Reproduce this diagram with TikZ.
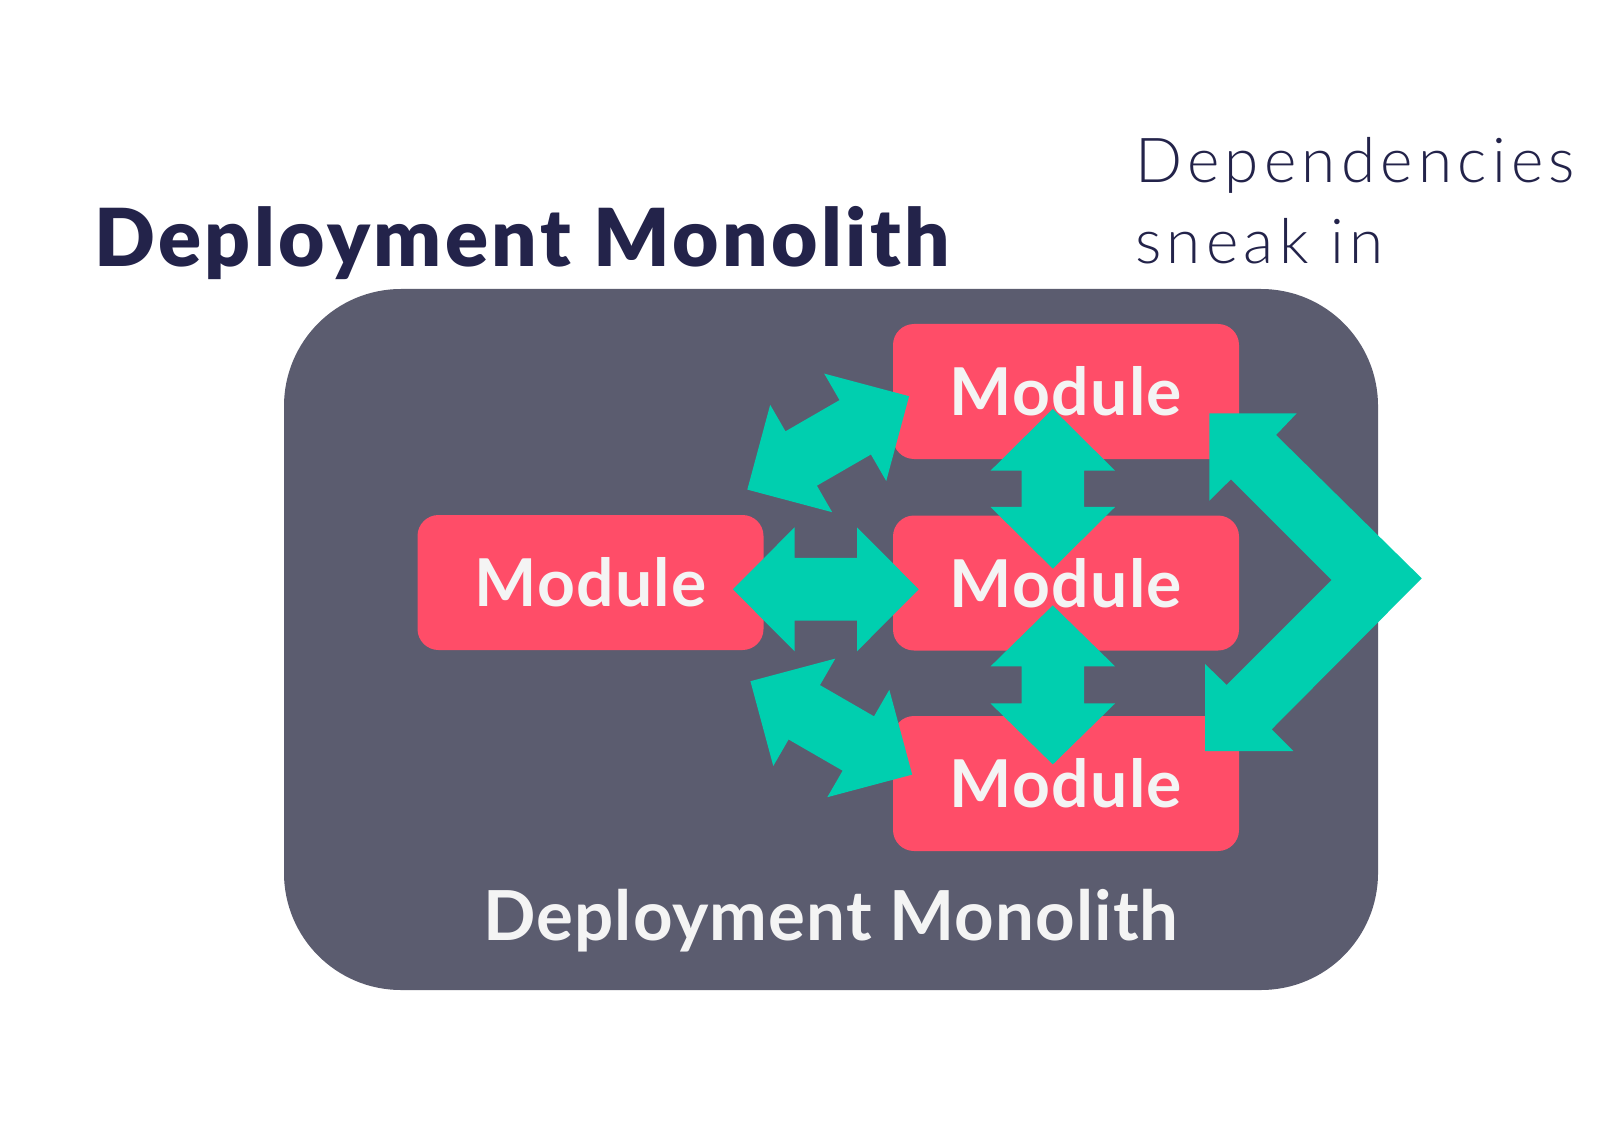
\documentclass[tikz,border=0pt]{standalone}
\usepackage{fontspec}
\setmainfont{Lato}
\newfontfamily\depfont{Lato Light}[LetterSpace=8.5]
\newfontfamily\titlefont{Lato Black}[LetterSpace=4.4]
\newfontfamily\modfont{Lato}[LetterSpace=2]
\newfontfamily\labelfont{Lato}[LetterSpace=1.5]
\definecolor{slate}{HTML}{5B5C6F}
\definecolor{modred}{HTML}{FF4D68}
\definecolor{teal2}{HTML}{00CFAF}
\definecolor{navy}{HTML}{23234A}
\definecolor{offwhite}{HTML}{F4F4F4}
\tikzset{
  monolith/.style={fill=slate, rounded corners=117pt, minimum width=1094pt, minimum height=701pt, inner sep=0pt},
  module/.style={fill=modred, rounded corners=21pt, minimum width=346pt, minimum height=135pt, inner sep=0pt,
    text=offwhite, font=\fontsize{66}{70}\modfont\bfseries},
  pics/dbl/.style n args={4}{code={
    \fill[teal2] (-#1,0) -- (-#1+#2,-#3) -- (-#1+#2,-#4) -- (#1-#2,-#4) -- (#1-#2,-#3) -- (#1,0)
      -- (#1-#2,#3) -- (#1-#2,#4) -- (-#1+#2,#4) -- (-#1+#2,#3) -- cycle;
  }},
}
\begin{document}
\begin{tikzpicture}[x=1pt,y=-1pt]
\useasboundingbox (0,0) rectangle (1600,1131);
\fill[white] (0,0) rectangle (1600,1131);

\node[anchor=base west, text=navy, inner sep=0pt, font=\fontsize{80}{90}\titlefont] (title) at (94,266.7) {Deployment Monolith};
\node[anchor=base west, text=navy, inner sep=0pt, font=\fontsize{62}{66}\depfont] (dep1) at (1135,183) {Dependencies};
\node[anchor=base west, text=navy, inner sep=0pt, font=\fontsize{62}{66}\depfont] (dep2) at (1135,263.3) {sneak in};

\node[monolith] (mono) at (831,639.5) {};
\node[anchor=base, text=offwhite, inner sep=0pt, font=\fontsize{69}{72}\labelfont\bfseries] (monolabel) at (831,940.7) {Deployment Monolith};

\node[module] (mtop) at (1066,391.5) {Module};
\node[module] (mmid) at (1066,583) {Module};
\node[module] (mbot) at (1066,783.5) {Module};
\node[module] (mleft) at (590.5,582.5) {Module};

% dependency arrows
\pic[rotate=0] (aLM) at (825.8,589.3) {dbl={92.9}{61.7}{62}{31.4}};
\pic[rotate=30] (aLT) at (828.2,442.9) {dbl={93.4}{62.2}{62}{31.4}};
\pic[rotate=-30] (aLB) at (831.3,727.9) {dbl={93.4}{62.2}{62}{31.4}};
\pic[rotate=90] (aTM) at (1052.8,488.8) {dbl={79.9}{61.8}{62.3}{31.3}};
\pic[rotate=90] (aMB) at (1052.8,684.9) {dbl={79.5}{61}{62.3}{31.3}};

% chevron arrow from top to bottom module
\fill[teal2] (1209.3,413.3) -- (1296.7,413.3) -- (1276,435) -- (1421.7,578.3) -- (1271.7,729.3)
  -- (1293.3,751) -- (1205,751) -- (1205,664) -- (1226.7,685) -- (1331.7,580)
  -- (1231,479.3) -- (1209.3,500.7) -- cycle;
\end{tikzpicture}
\end{document}
